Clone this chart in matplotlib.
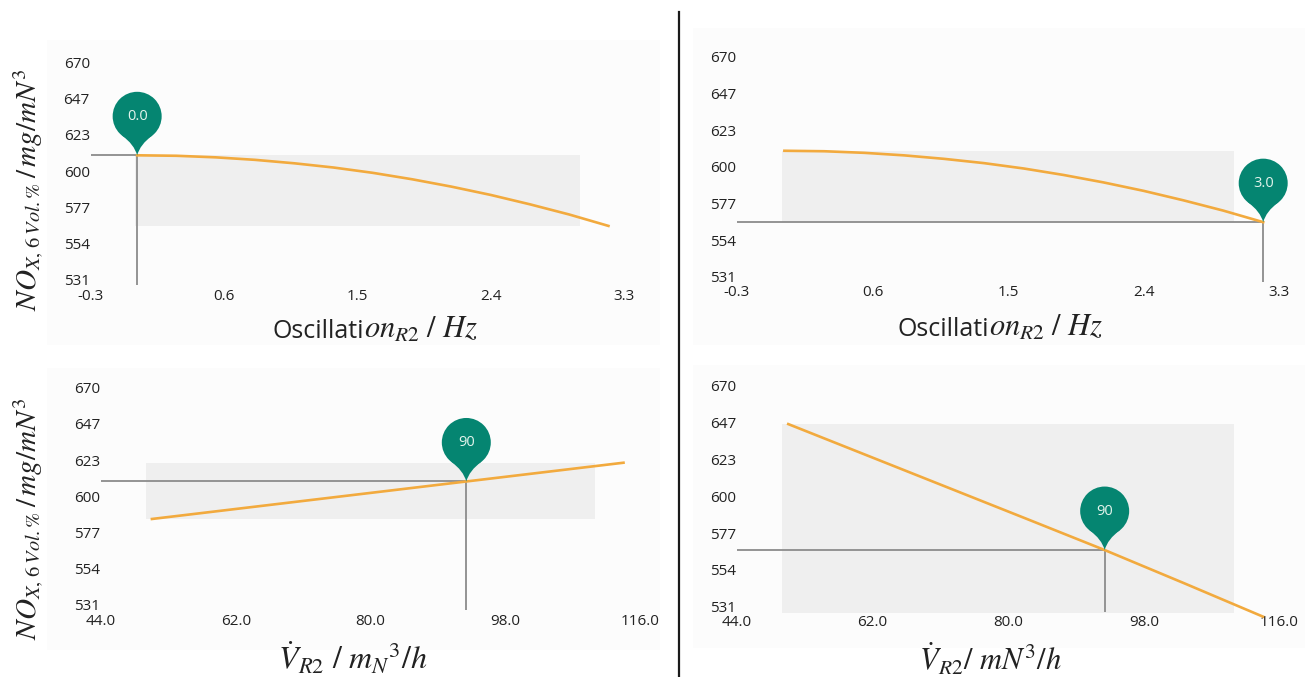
import numpy as np
import matplotlib
matplotlib.use("Agg")
import matplotlib.pyplot as plt
from matplotlib.path import Path
from matplotlib.patches import PathPatch, Circle, Rectangle
from matplotlib import transforms

plt.rcParams['font.family'] = ['Open Sans', 'DejaVu Sans']
plt.rcParams['mathtext.fontset'] = 'stix'

W, H, DPI = 1312, 677, 100

# ---- data -----------------------------------------------------------------
y_ticks = np.linspace(531, 670, 7)
y_tick_labels = ["531", "554", "577", "600", "623", "647", "670"]

osc_ticks = [-0.3, 0.6, 1.5, 2.4, 3.3]
osc_tick_labels = ["-0.3", "0.6", "1.5", "2.4", "3.3"]
flow_ticks = [44.0, 62.0, 80.0, 98.0, 116.0]
flow_tick_labels = ["44.0", "62.0", "80.0", "98.0", "116.0"]

oscillation = [0.0, 0.25, 0.5, 0.75, 1.0, 1.25, 1.5, 1.75, 2.0, 2.25, 2.5, 2.75, 3.0]
nox_vs_oscillation = [610.6, 610.3, 609.3, 607.7, 605.5, 602.8, 599.4,
                      595.3, 590.6, 585.3, 579.3, 572.8, 565.5]

flow = [50, 60, 70, 80, 90, 100, 110]
nox_vs_flow_left = [586.0, 592.0, 598.0, 604.0, 610.0, 616.0, 622.0]
nox_vs_flow_right = [646.0, 626.2, 606.4, 586.6, 566.7, 545.9, 524.8]

marker_osc_left = 0.0
marker_osc_right = 3.0
marker_flow_left = 90
marker_flow_right = 90

# ---- styling ----------------------------------------------------------------
ORANGE = "#F2AA3E"
GREEN = "#058571"
GUIDE = "#8C8C8C"
BAND = "#EFEFEF"
TEXT = "#222222"
Y_LIM = (527.7, 672.3)

fig = plt.figure(figsize=(W / DPI, H / DPI), dpi=DPI)
fig.patch.set_facecolor("white")

# faint panel cards
for (x0, y0, x1, y1) in [(47, 40, 660, 345), (693, 28, 1305, 345),
                         (47, 368, 660, 650), (693, 365, 1305, 648)]:
    fig.patches.append(Rectangle((x0 / W, 1 - y1 / H), (x1 - x0) / W, (y1 - y0) / H,
                                 transform=fig.transFigure, facecolor="#FCFCFC",
                                 edgecolor="none", zorder=-5))


def px_rect(left, top, right, bottom):
    return [left / W, 1 - bottom / H, (right - left) / W, (bottom - top) / H]


def draw_pin(ax, x, y, label):
    base = transforms.ScaledTranslation(x, y, ax.transData)
    trans = fig.dpi_scale_trans + base
    r, cy = 0.245, 0.39
    a = np.deg2rad(38)
    sx, sy = r * np.sin(a), cy - r * np.cos(a)
    verts = [(0, 0), (-0.03, 0.11), (-sx, sy), (0, cy), (sx, sy), (0.03, 0.11), (0, 0), (0, 0)]
    codes = [Path.MOVETO, Path.CURVE3, Path.CURVE3, Path.LINETO, Path.LINETO,
             Path.CURVE3, Path.CURVE3, Path.CLOSEPOLY]
    tail = PathPatch(Path(verts, codes), transform=trans, facecolor=GREEN,
                     edgecolor="none", zorder=6, clip_on=False)
    head = Circle((0, cy), r, transform=trans, facecolor=GREEN,
                  edgecolor="none", zorder=6, clip_on=False)
    ax.add_patch(tail)
    ax.add_patch(head)
    ax.annotate(label, xy=(x, y), xytext=(0, 39), textcoords="offset pixels",
                ha="center", va="center", color="#E3F4EC", fontsize=10.5,
                zorder=7, annotation_clip=False)


def panel(rect, ticks, tick_labels, curve_xlim, xs, ys, mx, mlabel):
    ax = fig.add_axes(px_rect(*rect))
    ax.set_facecolor("none")
    ax.set_xlim(ticks[0], ticks[-1])
    ax.set_ylim(*Y_LIM)
    ax.set_xticks(ticks)
    ax.set_xticklabels(tick_labels)
    ax.set_yticks(y_ticks)
    ax.set_yticklabels(y_tick_labels)
    ax.tick_params(length=0, labelsize=11, colors=TEXT)
    ax.tick_params(axis="x", pad=2.5)
    ax.tick_params(axis="y", pad=0.5)
    for s in ax.spines.values():
        s.set_visible(False)
    # range band of the response over the factor range
    ax.fill_between([min(xs), max(xs)], min(ys), max(ys), color=BAND,
                    linewidth=0, zorder=1)

    cax = fig.add_axes(px_rect(*rect))
    cax.set_xlim(*curve_xlim)
    cax.set_ylim(*Y_LIM)
    cax.axis("off")
    cax.patch.set_visible(False)
    my = float(np.interp(mx, xs, ys))
    cax.plot([curve_xlim[0], mx], [my, my], color=GUIDE, lw=1.3, zorder=3,
             solid_capstyle="butt")
    cax.plot([mx, mx], [my, Y_LIM[0]], color=GUIDE, lw=1.3, zorder=3,
             solid_capstyle="butt")
    cax.plot(xs, ys, color=ORANGE, lw=1.9, zorder=4, clip_on=False)
    draw_pin(cax, mx, my, mlabel)
    return ax


panel((90.5, 58.7, 624, 285.1), osc_ticks, osc_tick_labels, (-0.297, 3.099),
      oscillation, nox_vs_oscillation, marker_osc_left, f"{marker_osc_left:.1f}")
panel((737, 53.1, 1279, 282.0), osc_ticks, osc_tick_labels, (-0.297, 3.099),
      oscillation, nox_vs_oscillation, marker_osc_right, f"{marker_osc_right:.1f}")
panel((101, 384.1, 640, 610.1), flow_ticks, flow_tick_labels, (43.52, 112.1),
      flow, nox_vs_flow_left, marker_flow_left, f"{marker_flow_left}")
panel((737, 382.3, 1279.5, 612), flow_ticks, flow_tick_labels, (43.52, 112.1),
      flow, nox_vs_flow_right, marker_flow_right, f"{marker_flow_right}")

# axis titles
ylab = r"$NO_{X,\,6\,Vol.\%}\,/\,mg/mN^{3}$"
fig.text(29 / W, 1 - 190 / H, ylab, rotation=90, ha="center", va="center",
         fontsize=21, color=TEXT)
fig.text(29 / W, 1 - 519 / H, ylab, rotation=90, ha="center", va="center",
         fontsize=21, color=TEXT)

# "Oscillati" upright sans followed by the math-italic remainder
for split_x, y in [(364, 330), (989, 328)]:
    fig.text(split_x / W, 1 - (y + 8) / H, "Oscillati", ha="right",
             va="baseline", fontsize=18, color=TEXT)
    fig.text(split_x / W, 1 - (y + 8) / H, r"$on_{R2}\ /\ Hz$", ha="left",
             va="baseline", fontsize=22, color=TEXT)

fig.text(353 / W, 1 - 660 / H, r"$\dot{V}_{R2}\ /\ m_{N}{}^{3}/h$",
         ha="center", va="center", fontsize=23, color=TEXT)
fig.text(990 / W, 1 - 660 / H, r"$\dot{V}_{R2}/\ mN^{3}/h$",
         ha="center", va="center", fontsize=22, color=TEXT)

# divider between the two columns
fig.add_artist(plt.Line2D([679 / W, 679 / W], [0, 1 - 12 / H],
                          transform=fig.transFigure, color="#1A1A1A", lw=1.6))

fig.savefig("out.png", dpi=DPI, facecolor="white")
